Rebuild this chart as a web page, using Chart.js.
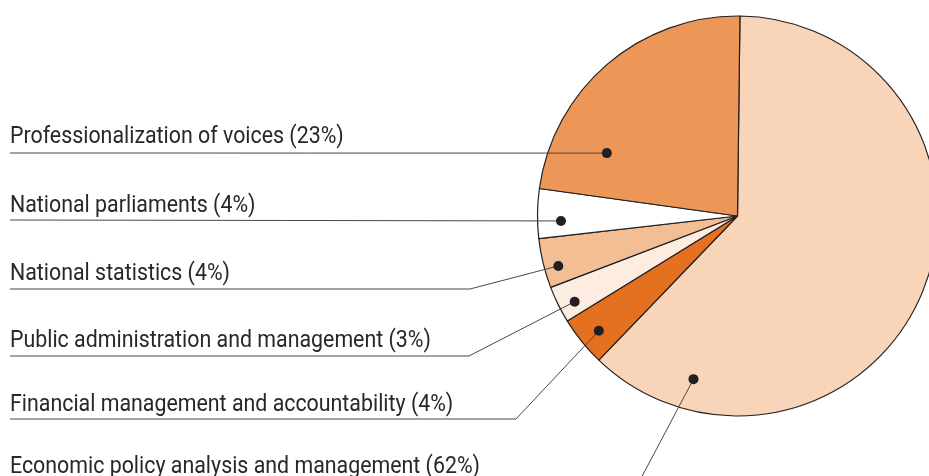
<!DOCTYPE html>
<html><head><meta charset="utf-8">
<script src="https://cdn.jsdelivr.net/npm/chart.js@4/dist/chart.umd.min.js"></script>
<style>
html,body{margin:0;padding:0;overflow:hidden;background:#fff;width:929px;height:476px}
#wrap{width:950px;height:476px;position:relative}
</style>
</head><body>
<div id="wrap"><canvas id="c" width="950" height="476"></canvas></div>
<script>
const categories = [
  "Economic policy analysis and management",
  "Financial management and accountability",
  "Public administration and management",
  "National statistics",
  "National parliaments",
  "Professionalization of voices"
];
const shares = [62, 4, 3, 4, 4, 23];
const sliceColors = ["#F8D5B8", "#E3711F", "#FDECE0", "#F4BE94", "#FFFFFF", "#EC9658"];

const FONT = '23.5px Roboto, "Liberation Sans", sans-serif';

const leaderPlugin = {
  id: 'leaders',
  afterDatasetsDraw(chart, args, opts) {
    const ctx = chart.ctx;
    const arcs = chart.getDatasetMeta(0).data;
    ctx.save();
    ctx.font = FONT;
    const longest = categories[0] + ' (' + shares[0] + '%)';
    const sx = opts.longestWidth / ctx.measureText(longest).width;
    arcs.forEach((arc, i) => {
      const p = arc.getProps(['x', 'y', 'startAngle', 'endAngle', 'outerRadius'], true);
      const a = p.startAngle + (p.endAngle - p.startAngle) * opts.anchorT[i];
      const r = p.outerRadius * opts.anchorR[i];
      const dx = p.x + r * Math.cos(a), dy = p.y + r * Math.sin(a);
      const ly = opts.lineY[i];
      ctx.beginPath();
      ctx.strokeStyle = '#4a4748';
      ctx.lineWidth = 1;
      ctx.moveTo(dx, dy);
      const ex = opts.elbowX[i];
      if (ex != null) ctx.lineTo(ex, ly);
      ctx.lineTo(opts.textX, ly);
      ctx.stroke();
      ctx.beginPath();
      ctx.fillStyle = '#231F20';
      ctx.arc(dx, dy, 5, 0, Math.PI * 2);
      ctx.fill();
      ctx.save();
      ctx.translate(opts.textX, ly - opts.textGap[i]);
      ctx.scale(sx, 1);
      ctx.font = FONT;
      ctx.fillStyle = '#2a2728';
      ctx.textBaseline = 'alphabetic';
      ctx.textAlign = 'left';
      ctx.fillText(categories[i] + ' (' + shares[i] + '%)', 0, 0);
      ctx.restore();
    });
    ctx.restore();
  }
};

new Chart(document.getElementById('c'), {
  type: 'pie',
  data: {
    labels: categories,
    datasets: [{
      data: shares,
      backgroundColor: sliceColors,
      borderColor: '#231F20',
      borderWidth: 1.2,
      radius: 200
    }]
  },
  options: {
    responsive: false,
    animation: false,
    rotation: 0.7,
    layout: { padding: { left: 537.5, right: 12.5, top: 16, bottom: 60 } },
    plugins: {
      legend: { display: false },
      tooltip: { enabled: false },
      leaders: {
        textX: 10,
        longestWidth: 470,
        anchorT: [0.871, 0.45, 0.365, 0.37, 0.34, 0.215],
        anchorR: [0.845, 0.90, 0.92, 0.93, 0.883, 0.725],
        lineY: [484, 419, 356, 289, 220, 153],
        elbowX: [638, 516, 469, 470, null, null],
        textGap: [11, 8, 9, 9, 8, 10]
      }
    }
  },
  plugins: [leaderPlugin]
});
</script>
</body></html>
